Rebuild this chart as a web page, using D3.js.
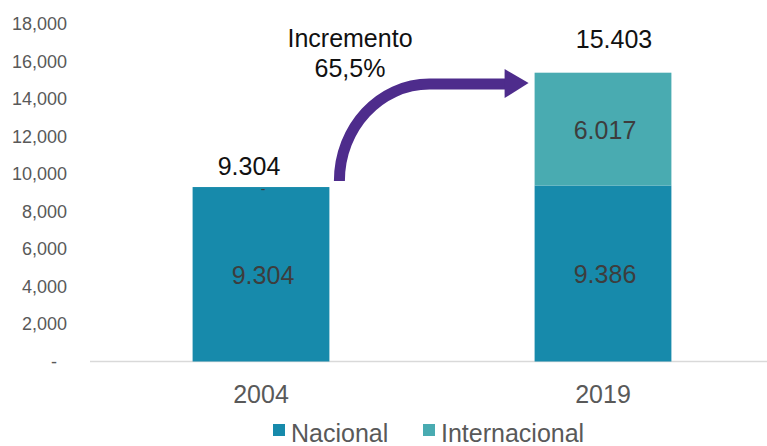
<!DOCTYPE html>
<html>
<head>
<meta charset="utf-8">
<script src="https://cdn.jsdelivr.net/npm/d3@7"></script>
<style>
  body { margin: 0; background: #fff; }
  text { font-family: "Liberation Sans", Arial, sans-serif; }
</style>
</head>
<body>
<div id="chart"></div>
<script>
// Data
const years = ["2004", "2019"];
const nacional = [9304, 9386];
const internacional = [0, 6017];
const totals = ["9.304", "15.403"];
const yTicks = [0, 2000, 4000, 6000, 8000, 10000, 12000, 14000, 16000, 18000];
const series = ["Nacional", "Internacional"];
const colors = ["#178aab", "#49abb1"];

const W = 767, H = 446;
const margin = {top: 24, left: 90, bottom: 84.5};

const svg = d3.select("#chart")
  .append("svg")
    .attr("width", W)
    .attr("height", H);

// Scales
const x = d3.scaleBand()
    .domain(years)
    .range([margin.left, 774])
    .paddingInner(0.6)
    .paddingOuter(0.3);

const y = d3.scaleLinear()
    .domain([0, 18000])
    .range([H - margin.bottom, margin.top]);

// Y axis labels
const fmtNum = d3.format(",");
svg.append("g")
  .selectAll("text")
  .data(yTicks)
  .enter()
  .append("text")
    .attr("x", d => d === 0 ? 57 : 67)
    .attr("y", d => y(d))
    .attr("dy", "0.35em")
    .attr("text-anchor", "end")
    .style("font-size", "18px")
    .style("fill", "#595959")
    .text(d => d === 0 ? "-" : fmtNum(d));

// Baseline
svg.append("line")
    .attr("x1", margin.left)
    .attr("x2", W)
    .attr("y1", y(0))
    .attr("y2", y(0))
    .style("stroke", "#d9d9d9")
    .style("stroke-width", 1.5);

// Stack
const rows = years.map((yr, i) => ({year: yr, Nacional: nacional[i], Internacional: internacional[i]}));
const stacked = d3.stack().keys(series)(rows);

svg.append("g")
  .selectAll("g")
  .data(stacked)
  .enter()
  .append("g")
    .style("fill", (d, i) => colors[i])
  .selectAll("rect")
  .data(d => d)
  .enter()
  .append("rect")
    .attr("x", d => x(d.data.year))
    .attr("y", d => y(d[1]))
    .attr("width", x.bandwidth())
    .attr("height", d => y(d[0]) - y(d[1]));

// Labels inside segments
const fmtDot = v => v === 0 ? "-" : d3.format(",")(v).replace(",", ".");
svg.append("g")
  .selectAll("g")
  .data(stacked)
  .enter()
  .append("g")
  .selectAll("text")
  .data(d => d)
  .enter()
  .append("text")
    .attr("x", d => x(d.data.year) + x.bandwidth() / 2 + 2)
    .attr("y", d => (y(d[0]) + y(d[1])) / 2 + ((d[1] - d[0]) === 0 ? 2 : 1))
    .attr("dy", "0.35em")
    .attr("text-anchor", "middle")
    .style("font-size", d => (d[1] - d[0]) === 0 ? "14px" : "25px")
    .style("fill", "#3d3d3d")
    .text(d => fmtDot(d[1] - d[0]));

// Totals above bars
svg.append("g")
  .selectAll("text")
  .data(years)
  .enter()
  .append("text")
    .attr("x", (d, i) => x(d) + x.bandwidth() / 2 + (internacional[i] > 0 ? 11 : -12))
    .attr("y", (d, i) => y(nacional[i] + internacional[i]) - (internacional[i] > 0 ? 25 : 12))
    .attr("text-anchor", "middle")
    .style("font-size", "25px")
    .style("fill", "#111")
    .text((d, i) => totals[i]);

// X axis labels
svg.append("g")
  .selectAll("text")
  .data(years)
  .enter()
  .append("text")
    .attr("x", d => x(d) + x.bandwidth() / 2)
    .attr("y", y(0) + 41)
    .attr("text-anchor", "middle")
    .style("font-size", "25px")
    .style("fill", "#595959")
    .text(d => d);

// Increment arrow
const x0 = x("2004") + x.bandwidth() + 10;
const yStart = y(nacional[0]) - 6;
const yH = 84;
const xEnd = x("2019") - 28;
const arrowColor = "#4e2c8c";
svg.append("path")
    .attr("d", `M${x0},${yStart} C${x0},${yStart - 0.552 * (yStart - yH)} ${x0 + 90 - 0.552 * 90},${yH} ${x0 + 90},${yH} L${xEnd},${yH}`)
    .style("fill", "none")
    .style("stroke", arrowColor)
    .style("stroke-width", 11);
svg.append("path")
    .attr("d", `M${xEnd - 2},${yH - 15} L${xEnd + 22},${yH - 1} L${xEnd - 2},${yH + 14} Z`)
    .style("fill", arrowColor);

svg.append("text")
    .attr("x", 350)
    .attr("y", 47)
    .attr("text-anchor", "middle")
    .style("font-size", "25px")
    .style("fill", "#111")
    .text("Incremento");
svg.append("text")
    .attr("x", 350)
    .attr("y", 77)
    .attr("text-anchor", "middle")
    .style("font-size", "25px")
    .style("fill", "#111")
    .text("65,5%");

// Legend
const legendX = [273, 423];
const legend = svg.append("g")
  .selectAll("g")
  .data(series)
  .enter()
  .append("g")
    .attr("transform", (d, i) => `translate(${legendX[i]},0)`);
legend.append("rect")
    .attr("x", 0)
    .attr("y", 424)
    .attr("width", 12)
    .attr("height", 12)
    .style("fill", (d, i) => colors[i]);
legend.append("text")
    .attr("x", 18)
    .attr("y", 442)
    .style("font-size", "25px")
    .style("fill", "#595959")
    .text(d => d);
</script>
</body>
</html>
